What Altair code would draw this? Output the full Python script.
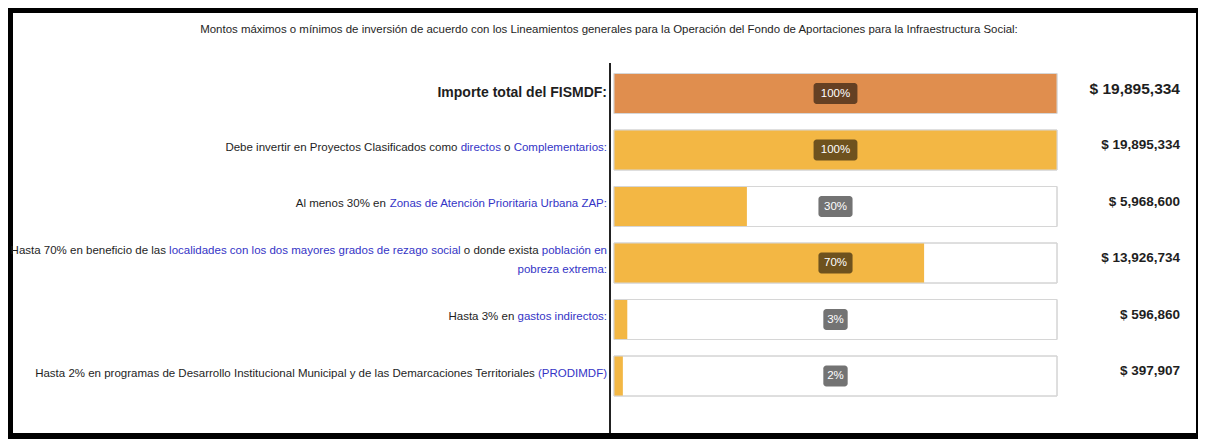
import altair as alt
import pandas as pd

# ---------------- data ----------------
rows = [0, 1, 2, 3, 4, 5]
pcts = [100, 100, 30, 70, 3, 2]
pct_labels = ["100%", "100%", "30%", "70%", "3%", "2%"]
amounts = ["$ 19,895,334", "$ 19,895,334", "$ 5,968,600", "$ 13,926,734", "$ 596,860", "$ 397,907"]
bar_colors = ["#E08E4E", "#F3B744", "#F3B744", "#F3B744", "#F3B744", "#F3B744"]

title_text = ("Montos máximos o mínimos de inversión de acuerdo con los Lineamientos generales "
              "para la Operación del Fondo de Aportaciones para la Infraestructura Social:")

main_label = "Importe total del FISMDF:"

# label lines per row (rows 1..5): list of lines, each a list of (text, kind); k=black, b=link blue
label_lines = [
    [[("Debe invertir en Proyectos Clasificados como ", "k"), ("directos", "b"), (" o ", "k"),
      ("Complementarios:", "b")]],
    [[("Al menos 30% en ", "k"), ("Zonas de Atención Prioritaria Urbana ZAP:", "b")]],
    [[("Hasta 70% en beneficio de las ", "k"),
      ("localidades con los dos mayores grados de rezago social", "b"),
      (" o donde exista ", "k"), ("población en", "b")],
     [("pobreza extrema:", "b")]],
    [[("Hasta 3% en ", "k"), ("gastos indirectos:", "b")]],
    [[("Hasta 2% en programas de Desarrollo Institucional Municipal y de las Demarcaciones Territoriales ", "k"),
      ("(PRODIMDF)", "b")]],
]

# ---------------- styling ----------------
FONT = "Liberation Sans"
BLACK = "#1e1e1e"
BLUE = "#3434C6"
seg_color = {"k": BLACK, "b": BLUE}
LABEL_FS = 11.5
LABEL_RIGHT = 594

# Liberation Sans (Arial-compatible) advance widths, 1/1000 em
_W = {" ": 278, "(": 333, ")": 333, "%": 889, ",": 278, ".": 278, ":": 278, "$": 556,
      "A": 667, "B": 667, "C": 722, "D": 722, "E": 667, "F": 611, "G": 778, "H": 722, "I": 278,
      "J": 500, "K": 667, "L": 556, "M": 833, "N": 722, "O": 778, "P": 667, "Q": 778, "R": 722,
      "S": 667, "T": 611, "U": 722, "V": 667, "W": 944, "X": 667, "Y": 667, "Z": 611,
      "a": 556, "b": 556, "c": 500, "d": 556, "e": 556, "f": 278, "g": 556, "h": 556, "i": 222,
      "j": 222, "k": 500, "l": 222, "m": 833, "n": 556, "o": 556, "p": 556, "q": 556, "r": 333,
      "s": 500, "t": 278, "u": 556, "v": 500, "w": 722, "x": 500, "y": 500, "z": 500,
      "á": 556, "é": 556, "í": 222, "ó": 556, "ú": 556}


def text_w(s, fs):
    return sum(_W.get(c, 556) for c in s) * fs / 1000.0


df = pd.DataFrame({
    "row": rows, "pct": pcts, "pct_label": pct_labels, "amount": amounts,
    "color": bar_colors, "start": [0] * len(rows), "full": [100] * len(rows),
})

# each coloured segment is right-aligned at its own end, working leftwards from the line's end
lab_recs = []
for r, lines in zip(rows[1:], label_lines):
    n = len(lines)
    for li, segs in enumerate(lines):
        end = LABEL_RIGHT
        for s, kind in reversed(segs):
            trail = len(s) - len(s.rstrip(" "))
            lab_recs.append({
                "row": r,
                "ly": r + (li - (n - 1) / 2) * 0.34 - 0.04,
                "lx": end - text_w(" " * trail, LABEL_FS),
                "text": s.strip(" "),
                "col": seg_color[kind],
            })
            end -= text_w(s, LABEL_FS)
lab_df = pd.DataFrame(lab_recs)

xscale = alt.Scale(domain=[0, 100], range=[601, 1044], nice=False, zero=False, padding=0)
yscale = alt.Scale(domain=[0, 5], range=[80.5, 363], nice=False, zero=False, padding=0)

base = alt.Chart(df)

track = base.mark_bar(orient="horizontal", size=40, fill="white", stroke="#cfcfcf",
                      strokeWidth=1).encode(
    x=alt.X("start:Q", scale=xscale, axis=None),
    x2="full:Q",
    y=alt.Y("row:Q", scale=yscale, axis=None),
)

fillbar = base.mark_bar(orient="horizontal", size=40).encode(
    x=alt.X("start:Q", scale=xscale, axis=None),
    x2="pct:Q",
    y=alt.Y("row:Q", scale=yscale, axis=None),
    color=alt.Color("color:N", scale=None),
)

outline = base.mark_bar(orient="horizontal", size=40, fillOpacity=0, stroke="#d6d6d6",
                        strokeWidth=1).encode(
    x=alt.X("start:Q", scale=xscale, axis=None),
    x2="full:Q",
    y=alt.Y("row:Q", scale=yscale, axis=None),
)

badge = base.transform_calculate(
    hw="(length(datum.pct_label) * 2.2 + 1.1) / 2",
    b0="50 - datum.hw",
    b1="50 + datum.hw",
).mark_bar(orient="horizontal", size=21, cornerRadius=3, color="black", opacity=0.55).encode(
    x=alt.X("b0:Q", scale=xscale, axis=None),
    x2="b1:Q",
    y=alt.Y("row:Q", scale=yscale, axis=None),
)

badge_text = base.mark_text(font=FONT, fontSize=11.5, color="white", baseline="middle",
                            align="center").encode(
    x=alt.datum(50, scale=xscale, axis=None),
    y=alt.Y("row:Q", scale=yscale, axis=None),
    text="pct_label:N",
)

values_main = base.transform_filter("datum.row == 0").mark_text(
    font=FONT, fontSize=15.5, fontWeight="bold", color=BLACK, align="right", baseline="middle", dy=-5
).encode(
    x=alt.value(1167),
    y=alt.Y("row:Q", scale=yscale, axis=None),
    text="amount:N",
)

values_rest = base.transform_filter("datum.row > 0").mark_text(
    font=FONT, fontSize=13.5, fontWeight="bold", color=BLACK, align="right", baseline="middle", dy=-5
).encode(
    x=alt.value(1167),
    y=alt.Y("row:Q", scale=yscale, axis=None),
    text="amount:N",
)

labels_main = base.transform_filter("datum.row == 0").mark_text(
    font=FONT, fontSize=14, fontWeight="bold", color=BLACK, align="right", baseline="middle",
    text=main_label, dy=-1,
).encode(
    x=alt.value(LABEL_RIGHT),
    y=alt.Y("row:Q", scale=yscale, axis=None),
)

labels_rest = alt.Chart(lab_df).mark_text(
    font=FONT, fontSize=LABEL_FS, align="right", baseline="middle"
).encode(
    x=alt.X("lx:Q", scale=None, axis=None),
    y=alt.Y("ly:Q", scale=yscale, axis=None),
    text="text:N",
    color=alt.Color("col:N", scale=None),
)

title_fs = 818 / text_w(title_text, 1.0)
title = alt.Chart(pd.DataFrame({"t": [title_text]})).mark_text(
    font=FONT, fontSize=round(title_fs, 2), color=BLACK, align="center", baseline="middle"
).encode(
    x=alt.value(596), y=alt.value(17), text="t:N"
)

divider = alt.Chart(pd.DataFrame({"t": [0]})).mark_rule(color="#222222", strokeWidth=2).encode(
    x=alt.value(597), y=alt.value(50), y2=alt.value(420)
)

chart = alt.layer(
    title, divider, track, fillbar, outline, badge, badge_text,
    values_main, values_rest, labels_main, labels_rest,
).properties(
    width=1183, height=420,
    autosize=alt.AutoSizeParams(type="none"),
    padding={"left": 5, "top": 5, "right": 2, "bottom": 6},
    background="black",
).configure_view(fill="white", strokeWidth=0)

chart.save("out.html", embed_options={"renderer": "svg", "actions": False})
